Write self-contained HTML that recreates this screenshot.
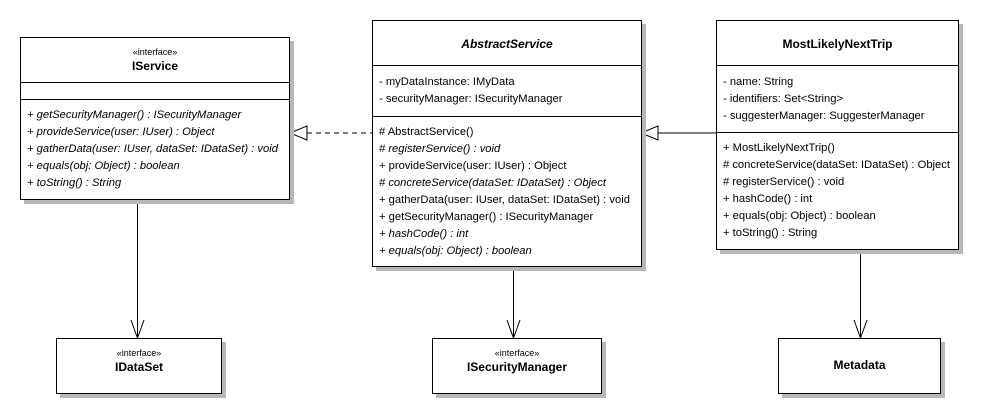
<!DOCTYPE html>
<html><head><meta charset="utf-8"><style>
body{margin:0;width:983px;height:408px;background:#fff;position:relative;overflow:hidden;font-family:"Liberation Sans",sans-serif;color:#000}
.b{position:absolute;border:1px solid #000;background:#fff;box-shadow:4px 4px 0 #b8b8b8;box-sizing:border-box}
.t{position:absolute;left:0;right:0;text-align:center}
.st{font-size:9px}
.nm{font-size:12px;font-weight:bold}
.hr{position:absolute;left:0;right:0;border-top:1px solid #000}
.l{position:absolute;left:6px;font-size:11.2px;white-space:nowrap;line-height:13px}
.i{font-style:italic}
svg{position:absolute;left:0;top:0}
</style></head><body>
<svg width="983" height="408">
<line x1="307" y1="133" x2="372" y2="133" stroke="#000" stroke-dasharray="5,4"/>
<polygon points="290,133 307,126 307,140" fill="#fff" stroke="#000"/>
<line x1="658" y1="133" x2="716" y2="133" stroke="#000"/>
<polygon points="641,133 658,126 658,140" fill="#fff" stroke="#000"/>
<line x1="137.5" y1="199" x2="137.5" y2="338" stroke="#000"/>
<polyline points="131,320 137.5,338 144,320" fill="none" stroke="#000"/>
<line x1="513.5" y1="266" x2="513.5" y2="338" stroke="#000"/>
<polyline points="507,320 513.5,338 520,320" fill="none" stroke="#000"/>
<line x1="860.5" y1="249" x2="860.5" y2="338" stroke="#000"/>
<polyline points="854,320 860.5,338 867,320" fill="none" stroke="#000"/>
</svg>

<div class="b" style="left:20px;top:37px;width:270px;height:163px">
<div class="t st" style="top:9px">«interface»</div>
<div class="t nm" style="top:21px">IService</div>
<div class="hr" style="top:44px"></div>
<div class="hr" style="top:61px"></div>
<div class="l i" style="top:71px">+ getSecurityManager() : ISecurityManager</div>
<div class="l i" style="top:88px">+ provideService(user: IUser) : Object</div>
<div class="l i" style="top:105px">+ gatherData(user: IUser, dataSet: IDataSet) : void</div>
<div class="l i" style="top:122px">+ equals(obj: Object) : boolean</div>
<div class="l i" style="top:139px">+ toString() : String</div>
</div>

<div class="b" style="left:372px;top:20px;width:270px;height:247px">
<div class="t nm i" style="top:16px">AbstractService</div>
<div class="hr" style="top:44px"></div>
<div class="l" style="top:55px">- myDataInstance: IMyData</div>
<div class="l" style="top:72px">- securityManager: ISecurityManager</div>
<div class="hr" style="top:95px"></div>
<div class="l" style="top:105px"># AbstractService()</div>
<div class="l i" style="top:122px"># registerService() : void</div>
<div class="l" style="top:139px">+ provideService(user: IUser) : Object</div>
<div class="l i" style="top:156px"># concreteService(dataSet: IDataSet) : Object</div>
<div class="l" style="top:173px">+ gatherData(user: IUser, dataSet: IDataSet) : void</div>
<div class="l" style="top:190px">+ getSecurityManager() : ISecurityManager</div>
<div class="l i" style="top:207px">+ hashCode() : int</div>
<div class="l i" style="top:224px">+ equals(obj: Object) : boolean</div>
</div>

<div class="b" style="left:716px;top:20px;width:243px;height:230px">
<div class="t nm" style="top:16px">MostLikelyNextTrip</div>
<div class="hr" style="top:44px"></div>
<div class="l" style="top:55px">- name: String</div>
<div class="l" style="top:72px">- identifiers: Set&lt;String&gt;</div>
<div class="l" style="top:89px">- suggesterManager: SuggesterManager</div>
<div class="hr" style="top:111px"></div>
<div class="l" style="top:121px">+ MostLikelyNextTrip()</div>
<div class="l" style="top:138px"># concreteService(dataSet: IDataSet) : Object</div>
<div class="l" style="top:155px"># registerService() : void</div>
<div class="l" style="top:172px">+ hashCode() : int</div>
<div class="l" style="top:189px">+ equals(obj: Object) : boolean</div>
<div class="l" style="top:206px">+ toString() : String</div>
</div>

<div class="b" style="left:56px;top:338px;width:166px;height:56px">
<div class="t st" style="top:9px">«interface»</div>
<div class="t nm" style="top:21px">IDataSet</div>
</div>
<div class="b" style="left:432px;top:338px;width:170px;height:56px">
<div class="t st" style="top:9px">«interface»</div>
<div class="t nm" style="top:21px">ISecurityManager</div>
</div>
<div class="b" style="left:778px;top:338px;width:163px;height:56px">
<div class="t nm" style="top:19px">Metadata</div>
</div>
</body></html>
